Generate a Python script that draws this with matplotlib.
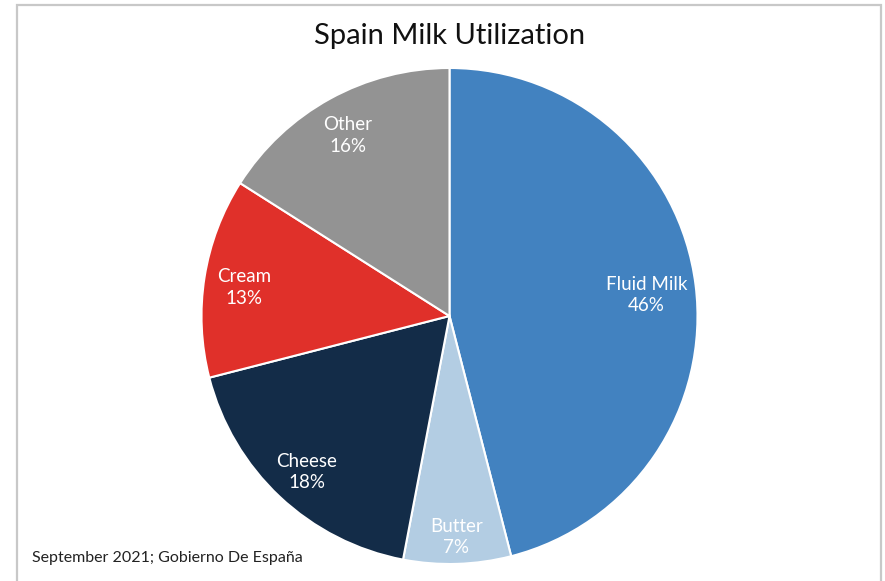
import numpy as np
import matplotlib
matplotlib.use("Agg")
import matplotlib.pyplot as plt
from matplotlib.patches import Rectangle

plt.rcParams['font.family'] = ['Lato', 'DejaVu Sans']

categories = ["Fluid Milk", "Butter", "Cheese", "Cream", "Other"]
shares = [46, 7, 18, 13, 16]
colors = ["#4282c0", "#b3cde3", "#132c48", "#e0302a", "#939393"]

W, H = 885, 581
fig = plt.figure(figsize=(W / 100, H / 100), dpi=100)
fig.patch.set_facecolor("white")

# outer frame (runs off the bottom edge)
top = 1 - 5 / H
fig.patches.append(Rectangle((17 / W, -0.2), (881 - 17) / W, top + 0.2, transform=fig.transFigure,
                             fill=False, edgecolor="#c8c8c8", linewidth=1.6, clip_on=False))

cx, cy, r = 449.5, 316, 248
ax = fig.add_axes([(cx - r) / W, (H - cy - r) / H, 2 * r / W, 2 * r / H])
wedges, _ = ax.pie(shares, colors=colors, startangle=90, counterclock=False,
                   wedgeprops=dict(edgecolor="white", linewidth=1.5))
ax.set_xlim(-1, 1)
ax.set_ylim(-1, 1)
ax.set_aspect("auto")
ax.axis("off")

dists = [0.80, 0.875, 0.84, 0.84, 0.85]
for w, name, val, d in zip(wedges, categories, shares, dists):
    mid = np.deg2rad((w.theta1 + w.theta2) / 2)
    ax.text(d * np.cos(mid), d * np.sin(mid) - 0.016, f"{name}\n{val}%", ha="center", va="center",
            color="white", fontsize=13.5, linespacing=1.33)

fig.text(cx / W, 1 - 36 / H, "Spain Milk Utilization", ha="center", va="center",
         fontsize=21, color="#111111")
fig.text(32 / W, 1 - 558 / H, "September 2021; Gobierno De España", ha="left", va="center",
         fontsize=11.5, color="#222222")

fig.savefig("out.png", dpi=100)
